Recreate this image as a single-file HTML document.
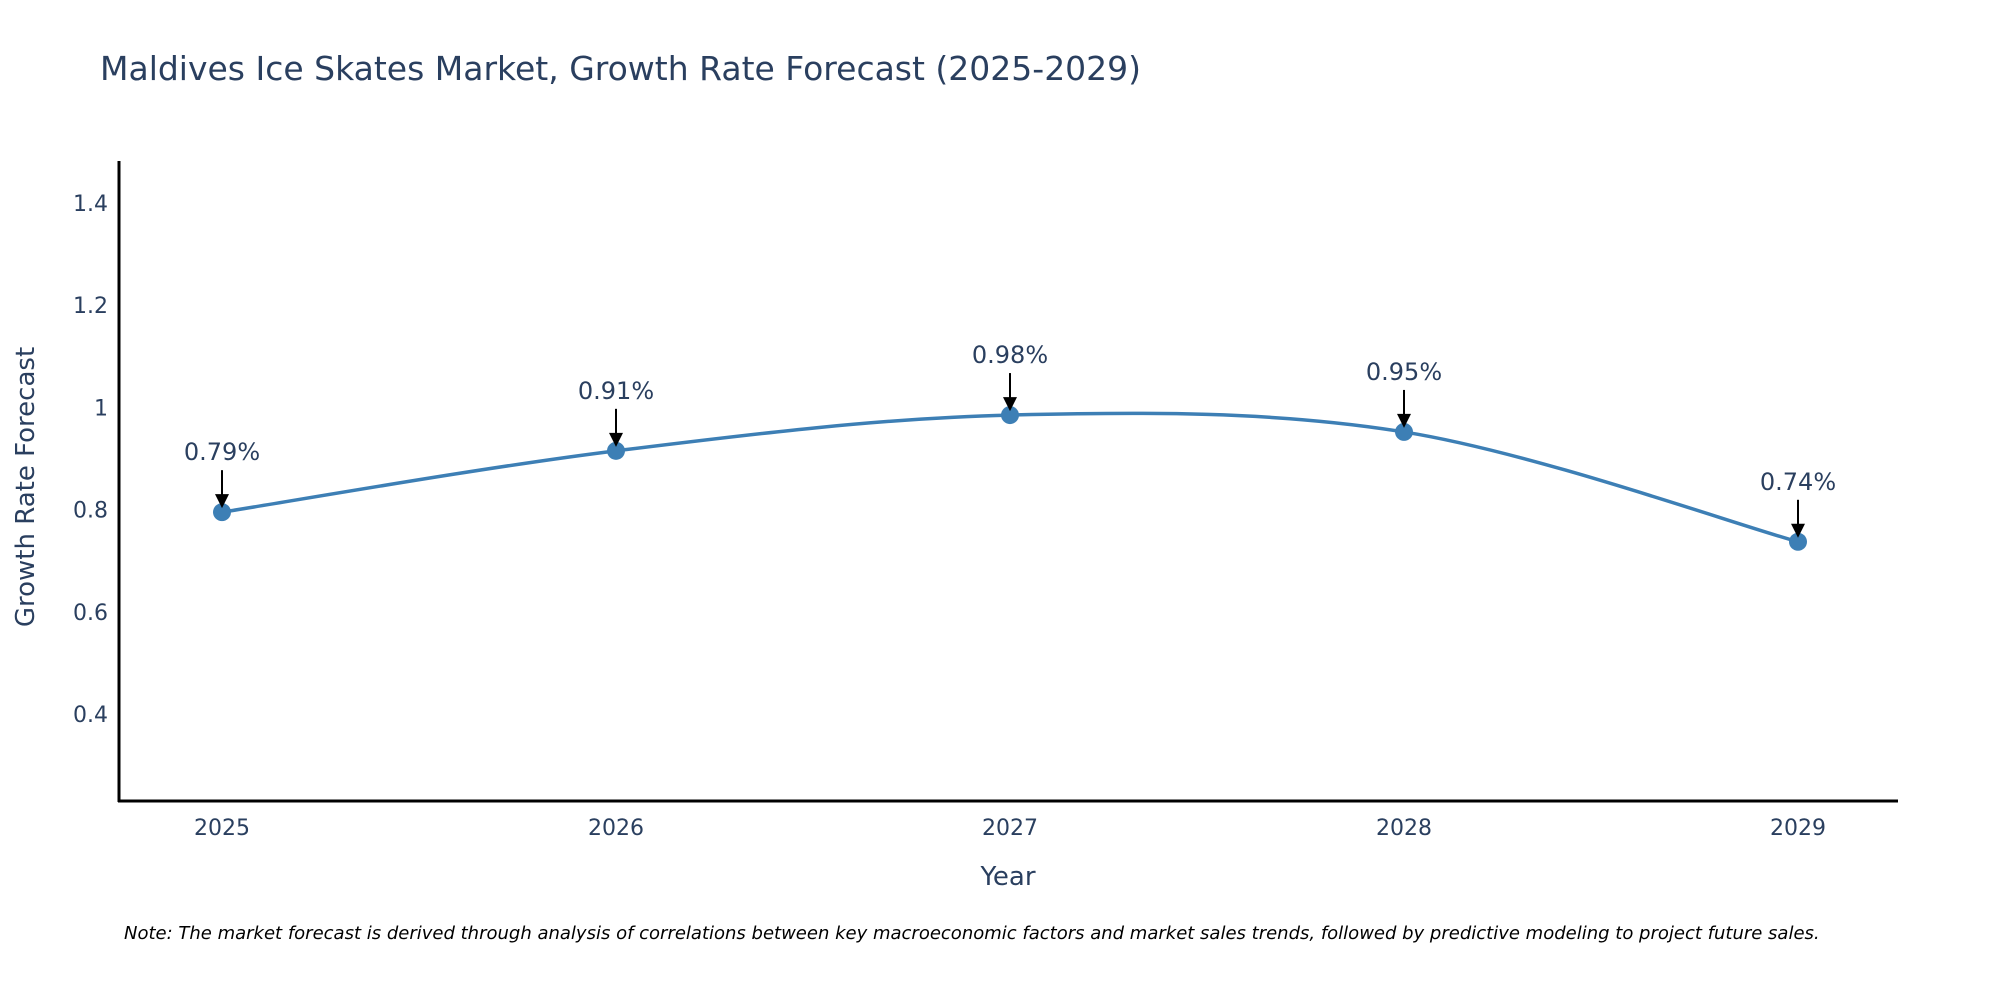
<!DOCTYPE html>
<html><head><meta charset="utf-8"><style>
body{margin:0;background:#fff;}
svg{display:block;font-family:"DejaVu Sans","Liberation Sans",sans-serif;}
</style></head><body>
<svg width="2000" height="1000" viewBox="0 0 2000 1000">
<text x="100" y="80" font-size="33" fill="#2a3f5f">Maldives Ice Skates Market, Growth Rate Forecast (2025-2029)</text>
<g id="yticks"></g><g id="xticks"></g>
<line x1="119" y1="161" x2="119" y2="802" stroke="#000" stroke-width="3"/>
<line x1="118" y1="801" x2="1898" y2="801" stroke="#000" stroke-width="3"/>
<path id="line" fill="none" stroke="#3d7fb5" stroke-width="3.5"/>
<g id="marks"></g>
<text x="1008" y="885" font-size="26" fill="#2a3f5f" text-anchor="middle">Year</text>
<text transform="translate(34,487) rotate(-90)" font-size="26" fill="#2a3f5f" text-anchor="middle">Growth Rate Forecast</text>
<text x="124" y="939" font-size="18" font-style="italic" fill="#000">Note: The market forecast is derived through analysis of correlations between key macroeconomic factors and market sales trends, followed by predictive modeling to project future sales.</text>
</svg>
<script>
const years=[2025,2026,2027,2028,2029];
const values=[0.795,0.915,0.985,0.952,0.737];
const labels=["0.79%","0.91%","0.98%","0.95%","0.74%"];
const yTicks=[0.4,0.6,0.8,1,1.2,1.4];
const yTickLabels=["0.4","0.6","0.8","1","1.2","1.4"];
const NS="http://www.w3.org/2000/svg";
function xs(v){return 222+(v-2025)*394;}
function ys(v){return 714-(v-0.4)*511;}
function mk(t,a,p){const e=document.createElementNS(NS,t);for(const k in a)e.setAttribute(k,a[k]);p.appendChild(e);return e;}
const yt=document.getElementById('yticks');
yTicks.forEach((v,i)=>{const t=mk('text',{x:108,y:ys(v)+8,'font-size':22,fill:'#2a3f5f','text-anchor':'end'},yt);


t.textContent=yTickLabels[i];});
const xt=document.getElementById('xticks');
years.forEach(v=>{const t=mk('text',{x:xs(v),y:835,'font-size':22,fill:'#2a3f5f','text-anchor':'middle'},xt);


t.textContent=v;});
const P=years.map((y,i)=>[xs(y),ys(values[i])]);
let d='M'+P[0][0]+','+P[0][1];
for(let i=0;i<P.length-1;i++){const p0=P[i-1]||P[i],p1=P[i],p2=P[i+1],p3=P[i+2]||P[i+1];const s=6;
d+=' C'+(p1[0]+(p2[0]-p0[0])/s)+','+(p1[1]+(p2[1]-p0[1])/s)+' '+(p2[0]-(p3[0]-p1[0])/s)+','+(p2[1]-(p3[1]-p1[1])/s)+' '+p2[0]+','+p2[1];}
document.getElementById('line').setAttribute('d',d);
const g=document.getElementById('marks');
P.forEach((p,i)=>{
const c=mk('circle',{cx:p[0],cy:p[1],r:9,fill:'#3d7fb5'},g);


const l=mk('line',{x1:p[0],y1:p[1]-42,x2:p[0],y2:p[1]-16,stroke:'#000','stroke-width':2},g);


const a=mk('polygon',{points:(p[0]-7)+','+(p[1]-18)+' '+(p[0]+7)+','+(p[1]-18)+' '+p[0]+','+(p[1]-4),fill:'#000'},g);


const t=mk('text',{x:p[0],y:p[1]-52,'font-size':24,fill:'#2a3f5f','text-anchor':'middle'},g);


t.textContent=labels[i];});
</script>
</body></html>
